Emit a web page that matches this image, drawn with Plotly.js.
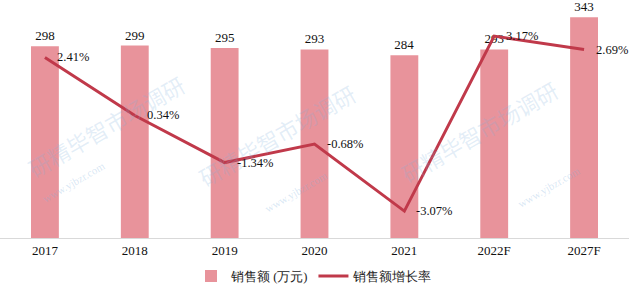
<!DOCTYPE html>
<html>
<head>
<meta charset="utf-8">
<script src="https://cdn.plot.ly/plotly-3.0.1.min.js"></script>
<style>html,body{margin:0;padding:0;background:#fff;}#chart{width:629px;height:285px;}</style>
</head>
<body>
<div id="chart"></div>
<script>
const categories = ["2017", "2018", "2019", "2020", "2021", "2022F", "2027F"];
const sales = [298, 299, 295, 293, 284, 293, 343];
const growth = [2.41, 0.34, -1.34, -0.68, -3.07, 3.17, 2.69];
const salesName = "销售额 (万元)";
const growthName = "销售额增长率";
const watermark = "研精毕智市场调研";
const watermarkUrl = "www.yjbzr.com";

const serif = "Liberation Serif, Times New Roman, serif";

const traces = [
  {
    type: "bar",
    name: salesName,
    x: categories,
    y: sales,
    marker: {color: "#E8939B"},
    width: 0.31,
    text: sales.map(String),
    textposition: "outside",
    cliponaxis: false,
    textfont: {family: serif, size: 13, color: "#111"},
    hoverinfo: "skip"
  },
  {
    type: "scatter",
    mode: "lines",
    name: growthName,
    x: categories,
    y: growth,
    yaxis: "y2",
    line: {color: "#C0394A", width: 3},
    cliponaxis: false,
    hoverinfo: "skip"
  }
];

// category index positions on the category axis
const growthLabels = categories.map((c, i) => ({
  x: i, y: growth[i], xref: "x", yref: "y2",
  text: growth[i].toFixed(2) + "%",
  showarrow: false, xanchor: "left", yanchor: "middle", xshift: 10,
  font: {family: serif, size: 12.5, color: "#111"}
}));

const wmFont = {family: "Noto Sans CJK SC", size: 22, color: "rgba(130,175,220,0.22)"};
const wmUrlFont = {family: serif, size: 11, color: "rgba(130,175,220,0.3)"};
const watermarks = [
  {text: watermark, x: 0.03, y: 0.22, font: wmFont},
  {text: watermarkUrl, x: 0.06, y: 0.13, font: wmUrlFont},
  {text: watermark, x: 0.44, y: 0.18, font: wmFont},
  {text: watermarkUrl, x: 0.47, y: 0.09, font: wmUrlFont},
  {text: watermark, x: 0.90, y: 0.20, font: wmFont},
  {text: watermarkUrl, x: 0.93, y: 0.11, font: wmUrlFont}
].map(a => Object.assign({xref: "paper", yref: "paper", showarrow: false, textangle: -30}, a));

const layout = {
  width: 629,
  height: 285,
  margin: {l: 0, r: 0, t: 5, b: 47, autoexpand: false},
  paper_bgcolor: "#fff",
  plot_bgcolor: "#fff",
  showlegend: true,
  legend: {
    orientation: "h",
    x: 0.5, xanchor: "center",
    y: -0.165, yanchor: "middle",
    font: {family: serif, size: 12.5, color: "#222"},
    tracegroupgap: 0
  },
  xaxis: {
    type: "category",
    range: [-0.5, categories.length - 0.5],
    showgrid: false,
    showline: true,
    linecolor: "#d9d9d9",
    linewidth: 1,
    ticks: "",
    tickfont: {family: serif, size: 13, color: "#111"},
    zeroline: false
  },
  yaxis: {
    range: [0, 362],
    visible: false,
    showgrid: false,
    zeroline: false
  },
  yaxis2: {
    range: [-4.03, 4.28],
    overlaying: "y",
    side: "right",
    visible: false,
    showgrid: false,
    zeroline: false
  },
  annotations: watermarks.concat(growthLabels)
};

Plotly.newPlot("chart", traces, layout, {staticPlot: true, displayModeBar: false});
</script>
</body>
</html>
